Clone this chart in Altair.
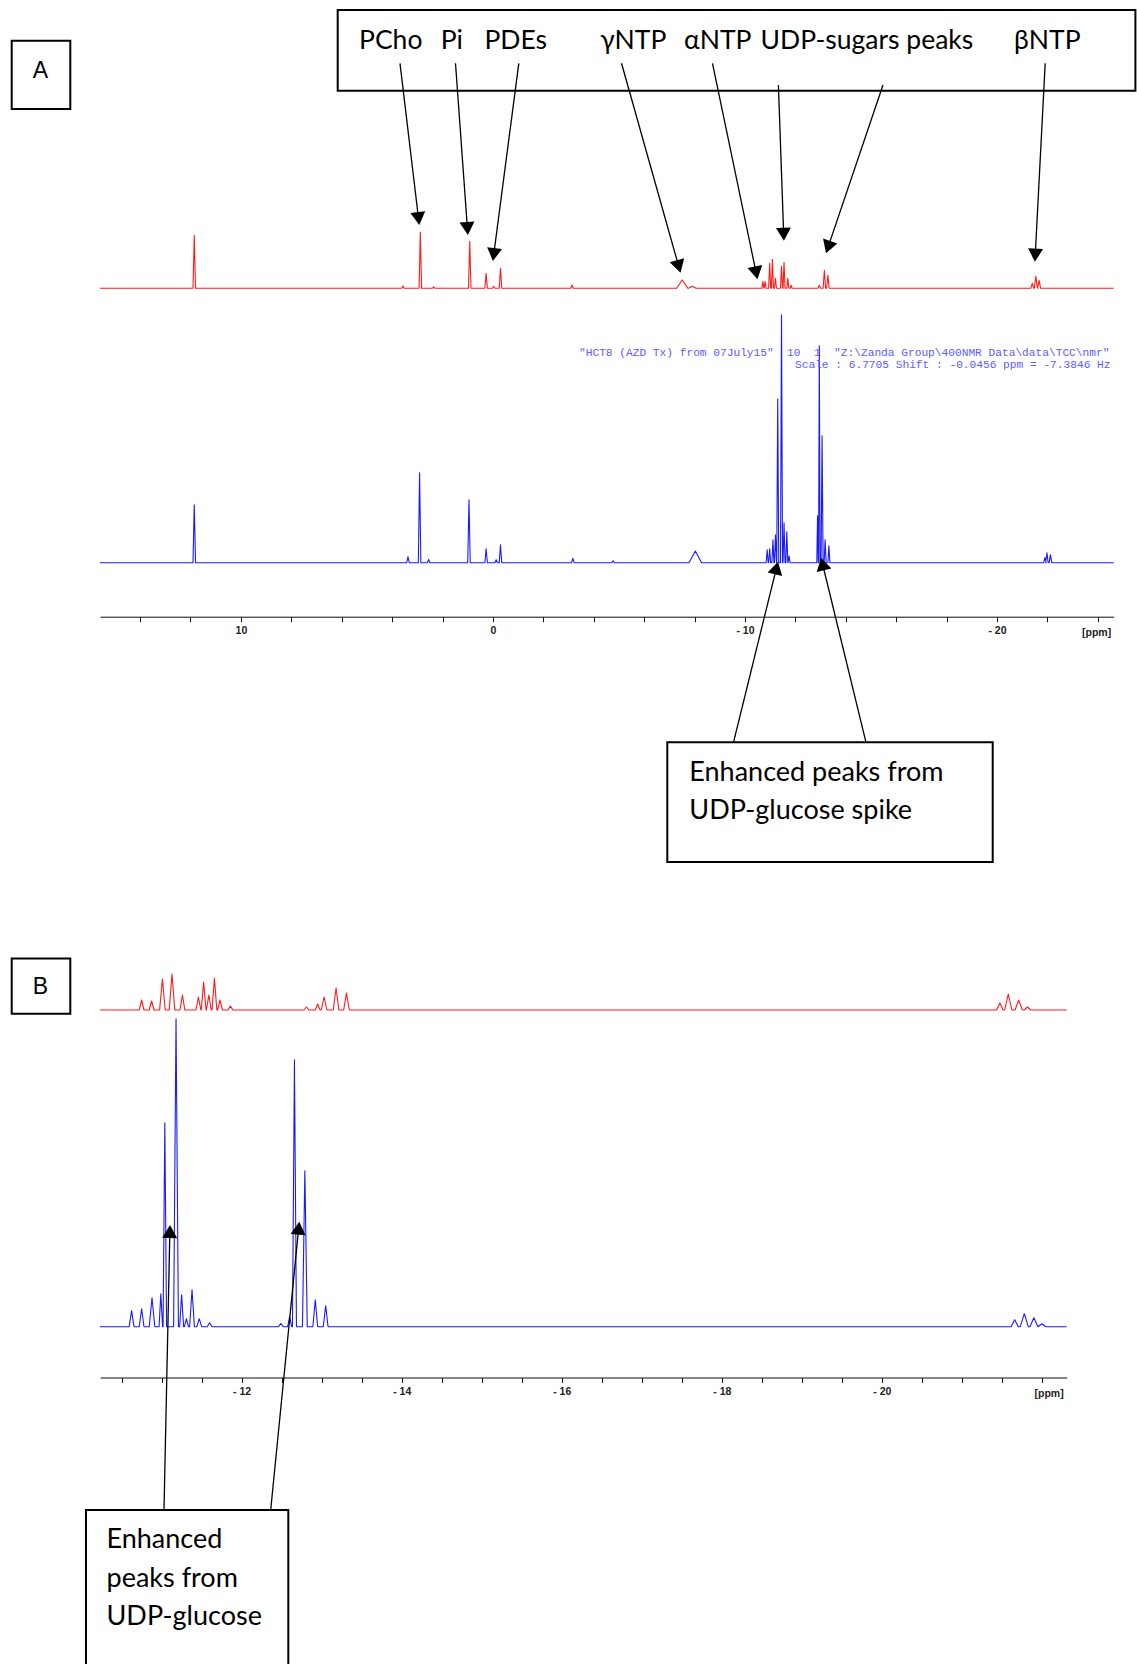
import math
import altair as alt
import pandas as pd

W, H = 1137, 1664

# ---------------- values ----------------
# Panel A, red spectrum: shift (ppm), peak height, half line width (ppm)
A_RED_PPM = [11.85, 3.57, 2.88, 2.35, 0.92, 0.27, -0.03, -0.30, -3.14, -7.51, -7.91,
             -10.71, -10.80, -10.98, -11.09, -11.21, -11.45, -11.55, -11.70, -11.83,
             -12.95, -13.15, -13.29, -21.40, -21.54, -21.67]
A_RED_H = [53, 2.3, 56, 1.5, 47, 15, 2, 20, 3.3, 8.3, 2,
           6.7, 6.7, 25, 29, 10, 22, 26, 10, 3,
           3, 18, 13, 5, 12, 8]
A_RED_W = [0.05, 0.05, 0.05, 0.05, 0.05, 0.05, 0.05, 0.05, 0.05, 0.22, 0.15,
           0.04, 0.04, 0.04, 0.04, 0.04, 0.04, 0.04, 0.04, 0.04,
           0.05, 0.05, 0.05, 0.06, 0.06, 0.06]

# Panel A, blue spectrum
A_BLUE_PPM = [11.85, 3.37, 2.91, 2.55, 0.95, 0.27, -0.13, -0.30, -3.17, -4.77, -8.03,
              -10.88, -10.98, -11.11, -11.21, -11.30, -11.45, -11.55, -11.66, -11.75,
              -12.88, -12.95, -13.06, -13.18, -13.33, -21.90, -21.98, -22.12]
A_BLUE_H = [58, 6, 90, 3.3, 63, 14, 3, 18, 4.3, 2, 11.7,
            13, 14, 23, 28, 164, 248, 40, 31, 6.7,
            47, 217, 127, 23, 17, 5, 10, 8]
A_BLUE_W = [0.05, 0.05, 0.05, 0.05, 0.05, 0.05, 0.05, 0.05, 0.05, 0.05, 0.25,
            0.04, 0.04, 0.04, 0.04, 0.04, 0.04, 0.04, 0.04, 0.04,
            0.03, 0.03, 0.04, 0.04, 0.04, 0.05, 0.05, 0.05]

# Panel B, red spectrum
B_RED_PPM = [-10.75, -10.875, -11.01, -11.13, -11.26, -11.46, -11.525, -11.59, -11.66, -11.73, -11.86,
             -12.81, -12.95, -13.03, -13.18, -13.31, -21.475, -21.58, -21.71, -21.82]
B_RED_H = [10, 9, 31, 36, 15, 13, 28, 15, 32, 10, 4,
           3, 6, 13, 22, 17, 7, 16, 10, 3]
B_RED_W = [0.03, 0.03, 0.035, 0.035, 0.03, 0.03, 0.03, 0.03, 0.03, 0.03, 0.03,
           0.03, 0.03, 0.035, 0.035, 0.035, 0.04, 0.045, 0.045, 0.04]

# Panel B, blue spectrum
B_BLUE_PPM = [-10.625, -10.75, -10.88, -10.99, -11.04, -11.18, -11.25, -11.31, -11.38, -11.47, -11.60,
              -12.49, -12.60, -12.66, -12.79, -12.92, -13.05, -21.66, -21.78, -21.90, -22.00]
B_BLUE_H = [16, 18, 29, 33, 204, 308, 32, 8, 37, 8, 4,
            3, 10, 267, 156, 27, 21, 7, 13, 9, 3]
B_BLUE_W = [0.03, 0.03, 0.035, 0.022, 0.022, 0.03, 0.025, 0.025, 0.03, 0.03, 0.03,
            0.03, 0.025, 0.025, 0.03, 0.03, 0.03, 0.045, 0.05, 0.05, 0.05]

A_TICKS = [14, 12, 10, 8, 6, 4, 2, 0, -2, -4, -6, -8, -10, -12, -14, -16, -18, -20, -22, -24]
A_LABELS = [10, 0, -10, -20]
B_TICKS = [-10.5, -11.0, -11.5, -12.0, -12.5, -13.0, -13.5, -14.0, -14.5, -15.0, -15.5, -16.0,
           -16.5, -17.0, -17.5, -18.0, -18.5, -19.0, -19.5, -20.0, -20.5, -21.0, -21.5, -22.0]
B_LABELS = [-12, -14, -16, -18, -20]

TOP_LABELS = ["PCho", "Pi", "PDEs", "γNTP", "αNTP", "UDP-sugars peaks", "βNTP"]
NOTE_A = ['"HCT8 (AZD Tx) from 07July15"  10  1  "Z:\\Zanda Group\\400NMR Data\\data\\TCC\\nmr"',
          'Scale : 6.7705 Shift : -0.0456 ppm = -7.3846 Hz']
BOX_A_TEXT = ["Enhanced peaks from", "UDP-glucose spike"]
BOX_B_TEXT = ["Enhanced", "peaks from", "UDP-glucose"]
PANEL_LETTERS = ["A", "B"]
UNIT = "[ppm]"

# ---------------- layout ----------------
A_DOM, A_RNG = [15.59, -24.63], [100, 1113.7]
B_DOM, B_RNG = [-10.23, -22.31], [100, 1066.7]
A_RED_BASE, A_BLUE_BASE, A_AXIS = 288.3, 562.7, 616.7
B_RED_BASE, B_BLUE_BASE, B_AXIS = 1010.0, 1326.7, 1377.5

RED = "#ff1a1a"
BLUE = "#1a1aff"
NOTE_BLUE = "#5c5cff"

PX = alt.Scale(domain=[0, W], range=[0, W], nice=False, zero=False)
PY = alt.Scale(domain=[0, H], range=[0, H], nice=False, zero=False)


def trace_df(ppm, hts, wid, dom):
    pts = [(dom[0], 0.0)]
    for c, h, w in sorted(zip(ppm, hts, wid), key=lambda t: -t[0]):
        pts += [(c + w, 0.0), (c, h), (c - w, 0.0)]
    pts.append((dom[1], 0.0))
    return pd.DataFrame({"ppm": [p[0] for p in pts], "h": [p[1] for p in pts],
                         "i": list(range(len(pts)))})


def trace_layer(ppm, hts, wid, dom, rng, base, color, axis=None):
    df = trace_df(ppm, hts, wid, dom)
    xs = alt.Scale(domain=dom, range=rng, nice=False, zero=False)
    ys = alt.Scale(domain=[0, 100], range=[base, base - 100], nice=False, zero=False)
    if axis is None:
        xenc = alt.X("ppm:Q", scale=xs, axis=None)
    else:
        xenc = alt.X("ppm:Q", scale=xs, axis=axis, title=None)
    return alt.Chart(df).mark_line(color=color, strokeWidth=1.1, strokeJoin="round").encode(
        x=xenc,
        y=alt.Y("h:Q", scale=ys, axis=None),
        order="i:Q",
    )


def ppm_axis(ticks, labels, axis_y):
    expr = ("indexof(%s, datum.value) >= 0 ? (datum.value < 0 ? '- ' + abs(datum.value) : '' + datum.value) : ''"
            % str(labels))
    return alt.Axis(orient="bottom", offset=axis_y - H, values=ticks, labelExpr=expr,
                    grid=False, domainColor="#111111", domainWidth=1, tickColor="#111111",
                    tickWidth=1, tickSize=5, labelFont="Liberation Sans", labelFontSize=10.5,
                    labelFontWeight="bold", labelColor="#222222", labelPadding=3.5,
                    labelOverlap=False, labelFlush=False)


layers = [
    trace_layer(A_RED_PPM, A_RED_H, A_RED_W, A_DOM, A_RNG, A_RED_BASE, RED),
    trace_layer(A_BLUE_PPM, A_BLUE_H, A_BLUE_W, A_DOM, A_RNG, A_BLUE_BASE, BLUE,
                axis=ppm_axis(A_TICKS, A_LABELS, A_AXIS)),
    trace_layer(B_RED_PPM, B_RED_H, B_RED_W, B_DOM, B_RNG, B_RED_BASE, RED),
    trace_layer(B_BLUE_PPM, B_BLUE_H, B_BLUE_W, B_DOM, B_RNG, B_BLUE_BASE, BLUE,
                axis=ppm_axis(B_TICKS, B_LABELS, B_AXIS)),
]

# ---- boxes ----
boxes = pd.DataFrame({
    "x1": [337.7, 11.7, 667.3, 11.7, 86.0],
    "y1": [10.0, 40.7, 742.3, 958.6, 1510.0],
    "x2": [1135.4, 70.3, 992.7, 70.3, 288.3],
    "y2": [90.7, 109.0, 862.0, 1013.8, 1690.0],
})
layers.append(alt.Chart(boxes).mark_rect(fillOpacity=0, stroke="black", strokeWidth=2).encode(
    x=alt.X("x1:Q", scale=PX, axis=None), x2="x2:Q",
    y=alt.Y("y1:Q", scale=PY, axis=None), y2="y2:Q"))

# ---- large labels ----
top = pd.DataFrame({
    "t": TOP_LABELS,
    "x": [359.0, 440.7, 484.4, 600.2, 684.0, 760.5, 1014.0],
    "y": [48.5] * 7,
})
layers.append(alt.Chart(top).mark_text(align="left", baseline="alphabetic", font="Lato",
                                        fontSize=26.5, color="black").encode(
    x=alt.X("x:Q", scale=PX, axis=None), y=alt.Y("y:Q", scale=PY, axis=None), text="t:N"))

boxtext = pd.DataFrame({
    "t": BOX_A_TEXT + BOX_B_TEXT,
    "x": [689.3, 689.3, 106.5, 106.5, 106.5],
    "y": [780.7, 819.3, 1548.3, 1586.7, 1625.0],
})
layers.append(alt.Chart(boxtext).mark_text(align="left", baseline="alphabetic", font="Lato",
                                            fontSize=27, color="black").encode(
    x=alt.X("x:Q", scale=PX, axis=None), y=alt.Y("y:Q", scale=PY, axis=None), text="t:N"))

# ---- panel letters ----
letters = pd.DataFrame({"t": PANEL_LETTERS, "x": [40.5, 40.5], "y": [71.0, 987.0]})
layers.append(alt.Chart(letters).mark_text(align="center", baseline="middle", font="Liberation Sans",
                                            fontSize=23, color="black").encode(
    x=alt.X("x:Q", scale=PX, axis=None), y=alt.Y("y:Q", scale=PY, axis=None), text="t:N"))

# ---- ppm unit labels ----
units = pd.DataFrame({"t": [UNIT, UNIT], "x": [1082.0, 1034.5], "y": [632.5, 1393.5]})
layers.append(alt.Chart(units).mark_text(align="left", baseline="middle", font="Liberation Sans",
                                          fontSize=10.5, fontWeight="bold", color="#222222").encode(
    x=alt.X("x:Q", scale=PX, axis=None), y=alt.Y("y:Q", scale=PY, axis=None), text="t:N"))

# ---- spectrometer note ----
note = pd.DataFrame({"t": [s.replace("  ", "\u00a0\u00a0") for s in NOTE_A],
                     "x": [579.0, 795.0], "y": [353.3, 365.0]})
layers.append(alt.Chart(note).mark_text(align="left", baseline="middle", font="Liberation Mono",
                                         fontSize=11.2, color=NOTE_BLUE).encode(
    x=alt.X("x:Q", scale=PX, axis=None), y=alt.Y("y:Q", scale=PY, axis=None), text="t:N"))

# ---- arrows ----
ARROWS = [
    (400.0, 63.3, 419.3, 225.0),
    (455.5, 63.3, 467.9, 235.0),
    (518.8, 63.3, 492.9, 261.0),
    (621.5, 63.3, 680.5, 272.7),
    (712.5, 63.3, 757.5, 279.3),
    (778.4, 85.0, 783.9, 240.7),
    (883.0, 85.0, 826.0, 253.3),
    (1045.2, 63.3, 1034.9, 261.7),
    (733.5, 742.3, 778.0, 561.7),
    (866.0, 742.3, 821.0, 557.7),
    (164.0, 1510.0, 170.0, 1225.0),
    (270.7, 1510.0, 299.3, 1221.7),
]
HEAD = 225.0
half = math.sqrt(3) / 2 * math.sqrt(HEAD) / 2
rows = []
for x1, y1, x2, y2 in ARROWS:
    dx, dy = x2 - x1, y2 - y1
    L = math.hypot(dx, dy)
    cx, cy = x2 - dx / L * half, y2 - dy / L * half
    ang = math.degrees(math.atan2(dx, -dy)) % 360
    rows.append({"x1": x1, "y1": y1, "cx": cx, "cy": cy, "ang": ang})
arr = pd.DataFrame(rows)
layers.append(alt.Chart(arr).mark_rule(color="black", strokeWidth=1.3).encode(
    x=alt.X("x1:Q", scale=PX, axis=None), x2="cx:Q",
    y=alt.Y("y1:Q", scale=PY, axis=None), y2="cy:Q"))
layers.append(alt.Chart(arr).mark_point(shape="triangle-up", filled=True, size=HEAD,
                                         color="black", opacity=1).encode(
    x=alt.X("cx:Q", scale=PX, axis=None),
    y=alt.Y("cy:Q", scale=PY, axis=None),
    angle=alt.Angle("ang:Q", scale=None)))

chart = alt.layer(*layers).resolve_scale(x="independent", y="independent").properties(
    width=W, height=H, padding=0, autosize=alt.AutoSizeParams(type="none"),
    background="white",
).configure_view(strokeWidth=0)

chart.save("out.html", embed_options={"renderer": "svg", "actions": False})
